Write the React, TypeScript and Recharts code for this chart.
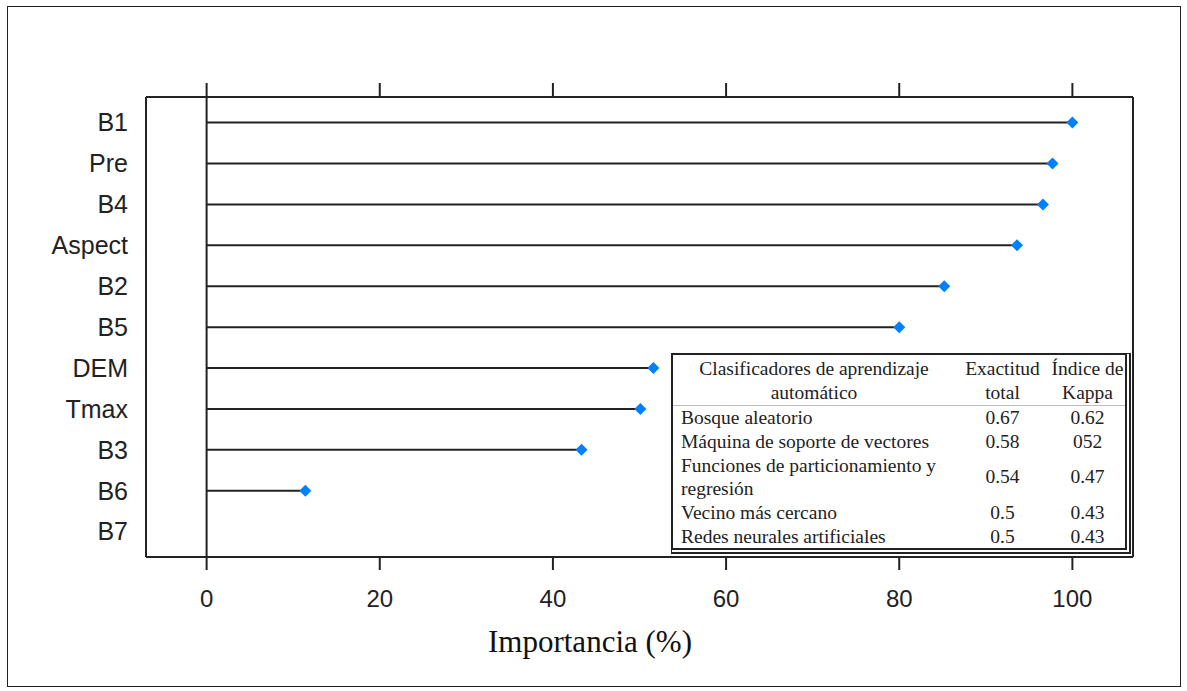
import { ComposedChart, Bar, XAxis, YAxis, ReferenceLine } from "recharts";

// variable importance (lattice-style dot plot)
const features = ["B1", "Pre", "B4", "Aspect", "B2", "B5", "DEM", "Tmax", "B3", "B6", "B7"];
const importance = [100, 97.7, 96.6, 93.6, 85.2, 80.0, 51.6, 50.1, 43.3, 11.4, 0];
const xTicks = [0, 20, 40, 60, 80, 100];

// inset table
const classifiers = [
  "Bosque aleatorio",
  "Máquina de soporte de vectores",
  "Funciones de particionamiento y regresión",
  "Vecino más cercano",
  "Redes neurales artificiales",
];
const accuracy = ["0.67", "0.58", "0.54", "0.5", "0.5"];
const kappa = ["0.62", "052", "0.47", "0.43", "0.43"];

const data = features.map((name, i) => ({ name, value: importance[i] }));

const INK = "#222";
const DOT = "#0080ff";
const SANS = "'Liberation Sans', Arial, sans-serif";
const SERIF = "'Liberation Serif', 'Times New Roman', serif";

function Lollipop(props: any) {
  const { x, y, width, height, value } = props;
  const cy = y + height / 2;
  const end = x + width;
  return (
    <g>
      <line x1={x} y1={cy} x2={end} y2={cy} stroke={INK} strokeWidth={2} />
      {value > 0 && (
        <path d={`M${end - 6},${cy} L${end},${cy - 6} L${end + 6},${cy} L${end},${cy + 6} Z`} fill={DOT} />
      )}
    </g>
  );
}

const rowH = [23.5, 23.5, 48, 23.5, 23.5];
const axisStroke = { stroke: INK, strokeWidth: 2 };

export default function App() {
  return (
    <div style={{ position: "absolute", left: 0, top: 0, width: 1187, height: 691, background: "#fff" }}>
      <div
        style={{
          position: "absolute",
          left: 7,
          top: 6,
          width: 1172,
          height: 679,
          border: `1.5px solid ${INK}`,
        }}
      />
      <div style={{ position: "absolute", left: 0, top: 0 }}>
        <ComposedChart
          width={1187}
          height={691}
          layout="vertical"
          data={data}
          margin={{ top: 77, right: 53, bottom: 94, left: 46 }}
        >
          <XAxis
            type="number"
            dataKey="value"
            domain={[-7, 107]}
            ticks={xTicks}
            allowDataOverflow
            height={40}
            axisLine={axisStroke}
            tickSize={13}
            tickMargin={20}
            tickLine={axisStroke}
            tick={{ fill: INK, fontSize: 24, fontFamily: SANS }}
          />
          <XAxis
            xAxisId="top"
            orientation="top"
            type="number"
            domain={[-7, 107]}
            ticks={xTicks}
            allowDataOverflow
            height={20}
            axisLine={axisStroke}
            tickSize={14}
            tickLine={axisStroke}
            tick={() => <g />}
          />
          <YAxis
            type="category"
            dataKey="name"
            width={100}
            padding={{ top: 5, bottom: 5 }}
            axisLine={axisStroke}
            tickLine={false}
            tickSize={0}
            tickMargin={18}
            tick={{ fill: INK, fontSize: 25, fontFamily: SANS }}
          />
          <YAxis
            yAxisId="right"
            orientation="right"
            type="category"
            dataKey="name"
            width={1}
            axisLine={axisStroke}
            tickLine={false}
            tick={false}
          />
          <ReferenceLine x={0} stroke={INK} strokeWidth={2} />
          <Bar dataKey="value" shape={Lollipop} isAnimationActive={false} />
        </ComposedChart>
      </div>
      <div
        style={{
          position: "absolute",
          left: 390,
          top: 626,
          width: 400,
          textAlign: "center",
          fontFamily: SERIF,
          fontSize: 31,
          lineHeight: "31px",
          color: "#111",
        }}
      >
        Importancia (%)
      </div>
      <div
        style={{
          position: "absolute",
          left: 671,
          top: 353,
          width: 452,
          height: 193,
          borderLeft: `2px solid ${INK}`,
          borderTop: `2px solid ${INK}`,
          borderRight: `6px double ${INK}`,
          borderBottom: `6px double ${INK}`,
          background: "#fff",
          fontFamily: SERIF,
          fontSize: 19.5,
          color: "#222",
          lineHeight: "23.5px",
        }}
      >
        <div style={{ display: "flex", height: 48, borderBottom: "1px solid #bbb", paddingTop: 2 }}>
          <div style={{ width: 282, textAlign: "center" }}>
            Clasificadores de aprendizaje
            <br />
            automático
          </div>
          <div style={{ width: 95, textAlign: "center" }}>
            Exactitud
            <br />
            total
          </div>
          <div style={{ width: 75, textAlign: "center", whiteSpace: "nowrap" }}>
            Índice de
            <br />
            Kappa
          </div>
        </div>
        {classifiers.map((c, i) => (
          <div key={c} style={{ display: "flex", height: rowH[i], alignItems: "center" }}>
            <div style={{ width: 282, paddingLeft: 8, boxSizing: "border-box" }}>{c}</div>
            <div style={{ width: 95, textAlign: "center" }}>{accuracy[i]}</div>
            <div style={{ width: 75, textAlign: "center" }}>{kappa[i]}</div>
          </div>
        ))}
      </div>
    </div>
  );
}
